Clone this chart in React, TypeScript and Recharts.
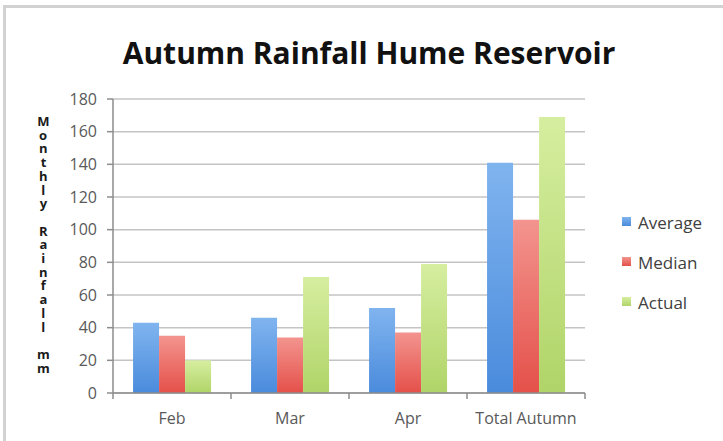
import React from 'react';
import { BarChart, Bar, XAxis, YAxis, CartesianGrid } from 'recharts';

const categories = ['Feb', 'Mar', 'Apr', 'Total Autumn'];
const averageValues = [43, 46, 52, 141];
const medianValues = [35, 34, 37, 106];
const actualValues = [20, 71, 79, 169];
const yTicks = [0, 20, 40, 60, 80, 100, 120, 140, 160, 180];
const seriesNames = ['Average', 'Median', 'Actual'];
const titleText = 'Autumn Rainfall Hume Reservoir';
const yAxisTitle = 'Monthly Rainfall mm';

const data = categories.map((c, i) => ({
  name: c,
  Average: averageValues[i],
  Median: medianValues[i],
  Actual: actualValues[i],
}));

const W = 723;
const H = 441;
const M = { top: 99, right: 138, bottom: 18, left: 0 };
const Y_AXIS_W = 113;
const X_AXIS_H = 30;
const PLOT_W = W - M.left - M.right - Y_AXIS_W;
const BAND = PLOT_W / categories.length;
const FONT = '"Open Sans", "DejaVu Sans", sans-serif';

const XTick = (props: any) => {
  const { x, y, payload, index } = props;
  const axisY = y - 20;
  return (
    <g>
      <line x1={x - BAND / 2} x2={x - BAND / 2} y1={axisY} y2={axisY + 6} stroke="#8c8c8c" strokeWidth={1.5} />
      {index === categories.length - 1 && (
        <line x1={x + BAND / 2} x2={x + BAND / 2} y1={axisY} y2={axisY + 6} stroke="#8c8c8c" strokeWidth={1.5} />
      )}
      <text x={x} y={y} dy="0.71em" textAnchor="middle" fill="#595959" fontSize={16} fontFamily={FONT}>
        {payload.value}
      </text>
    </g>
  );
};

const fills: Record<string, string> = {
  Average: 'url(#gBlue)',
  Median: 'url(#gRed)',
  Actual: 'url(#gGreen)',
};

export default function App() {
  return (
    <div style={{ position: 'fixed', left: 0, top: 0, width: W, height: H, background: '#fff', overflow: 'hidden' }}>
      <div
        style={{
          position: 'absolute',
          left: 3,
          top: 5,
          width: W,
          height: H,
          borderLeft: '3px solid #d2d2d2',
          borderTop: '3px solid #d2d2d2',
          boxSizing: 'border-box',
        }}
      />
      <div
        style={{
          position: 'absolute',
          left: 0,
          top: 38,
          width: 738,
          textAlign: 'center',
          fontFamily: FONT,
          fontWeight: 700,
          fontSize: 30,
          lineHeight: '30px',
          color: '#111',
        }}
      >
        {titleText}
      </div>
      <div
        style={{
          position: 'absolute',
          left: 35,
          top: 112,
          writingMode: 'vertical-rl',
          textOrientation: 'upright',
          fontFamily: FONT,
          fontWeight: 700,
          fontSize: 13,
          lineHeight: '16px',
          letterSpacing: '-4.3px',
          color: '#1a1a1a',
          whiteSpace: 'pre',
        }}
      >
        {yAxisTitle}
      </div>
      <div style={{ position: 'absolute', left: 0, top: 0 }}>
        <BarChart width={W} height={H} data={data} margin={M} barCategoryGap="17%" barGap={0}>
          <defs>
            <linearGradient id="gBlue" x1="0" y1="0" x2="0" y2="1">
              <stop offset="0%" stopColor="#80b4ef" />
              <stop offset="100%" stopColor="#4a8bdc" />
            </linearGradient>
            <linearGradient id="gRed" x1="0" y1="0" x2="0" y2="1">
              <stop offset="0%" stopColor="#f3948e" />
              <stop offset="100%" stopColor="#e5504a" />
            </linearGradient>
            <linearGradient id="gGreen" x1="0" y1="0" x2="0" y2="1">
              <stop offset="0%" stopColor="#d6eea0" />
              <stop offset="100%" stopColor="#b0d468" />
            </linearGradient>
          </defs>
          <CartesianGrid horizontal vertical={false} stroke="#c4c4c4" strokeWidth={1.5} />
          <XAxis
            dataKey="name"
            height={X_AXIS_H}
            tickLine={false}
            tickSize={0}
            tickMargin={20}
            axisLine={{ stroke: '#8c8c8c', strokeWidth: 1.5 }}
            tick={<XTick />}
            interval={0}
          />
          <YAxis
            width={Y_AXIS_W}
            domain={[0, 180]}
            ticks={yTicks}
            interval={0}
            tickSize={6}
            tickMargin={10}
            tickLine={{ stroke: '#8c8c8c', strokeWidth: 1.5 }}
            axisLine={{ stroke: '#8c8c8c', strokeWidth: 1.5 }}
            tick={{ fill: '#595959', fontSize: 16, fontFamily: FONT }}
          />
          {seriesNames.map((s) => (
            <Bar key={s} dataKey={s} name={s} fill={fills[s]} isAnimationActive={false} />
          ))}
        </BarChart>
      </div>
      <div style={{ position: 'absolute', left: 622, top: 202, fontFamily: FONT }}>
        {seriesNames.map((s) => (
          <div key={s} style={{ height: 40, display: 'flex', alignItems: 'center' }}>
            <svg width={10} height={10} style={{ marginRight: 6 }}>
              <rect x={0} y={0} width={9} height={9} fill={fills[s]} />
            </svg>
            <span style={{ fontSize: 17, color: '#404040' }}>{s}</span>
          </div>
        ))}
      </div>
    </div>
  );
}
